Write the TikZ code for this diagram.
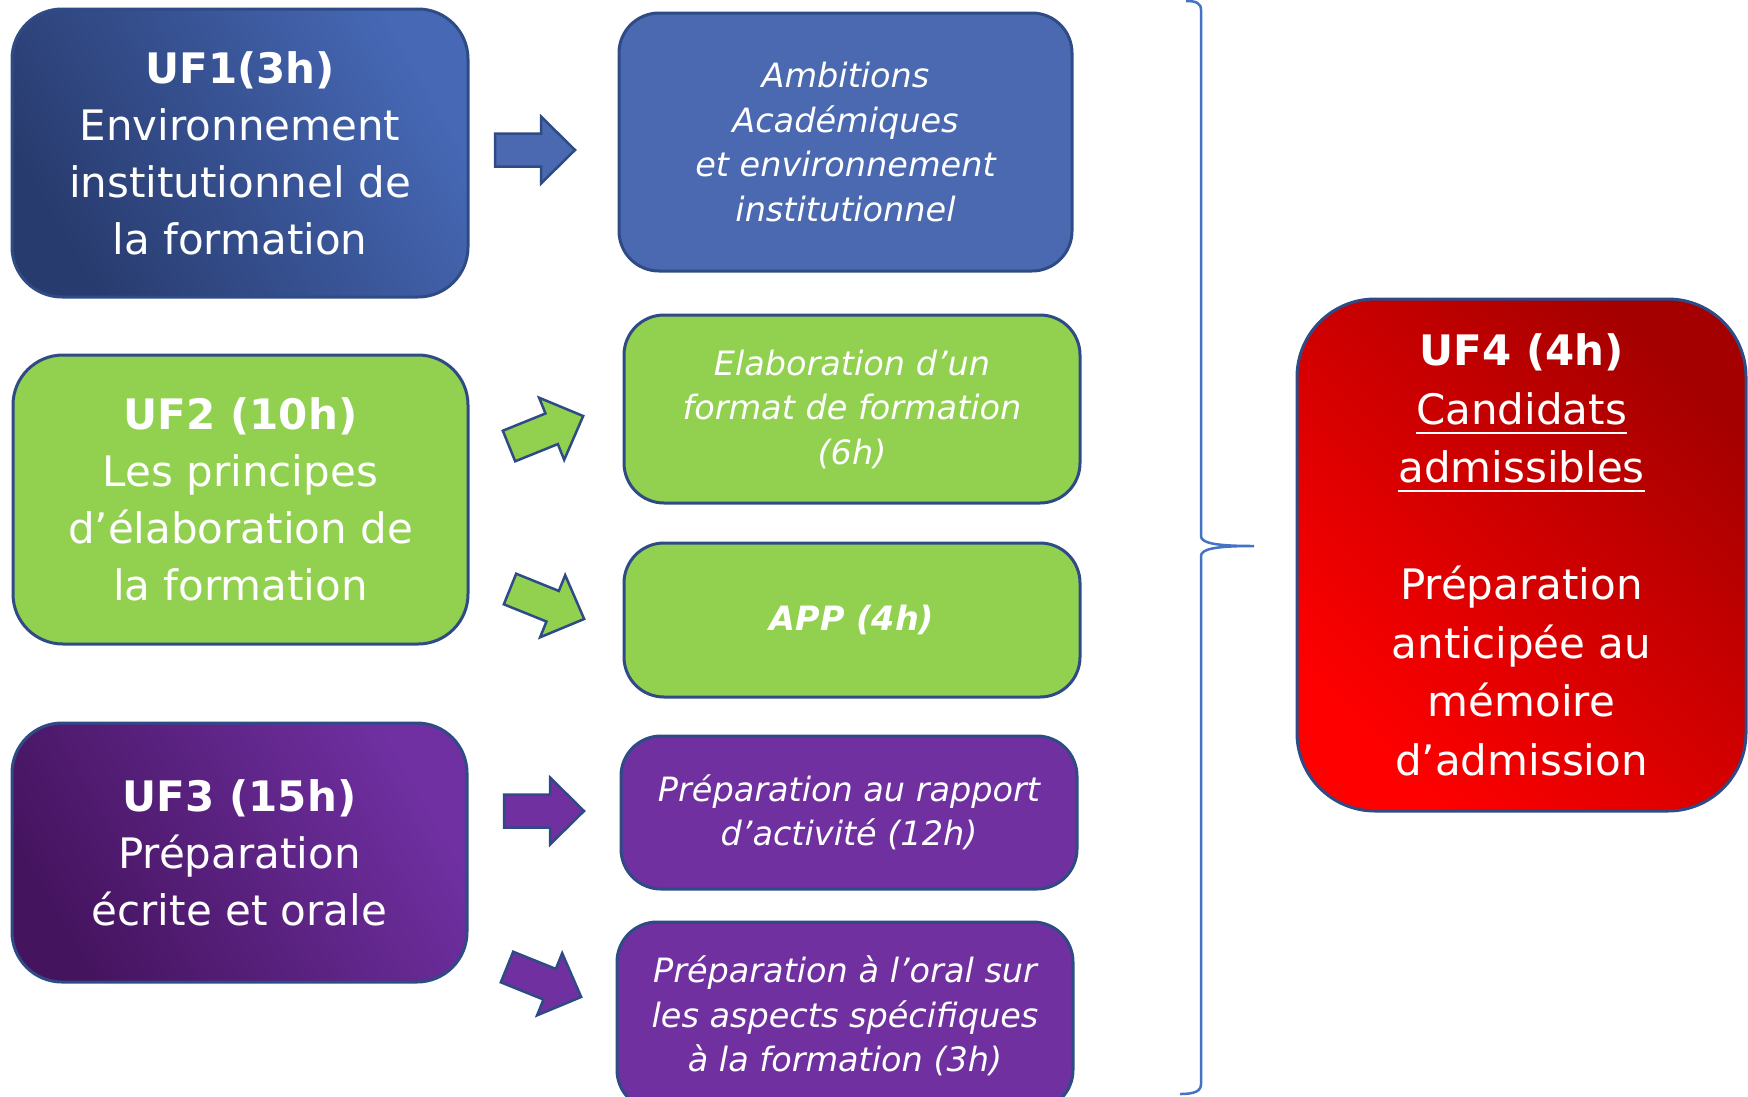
\documentclass[tikz,border=0pt]{standalone}
\usepackage{fontspec}
\setmainfont{DejaVu Sans}
\newsavebox\ulbox
\newcommand\myul[1]{\sbox\ulbox{#1}\rlap{\rule[-9.5pt]{\wd\ulbox}{2.2pt}}\usebox\ulbox}
\definecolor{bord}{HTML}{2F4B85}
\definecolor{blueA}{HTML}{283B6E}
\definecolor{blueB}{HTML}{4668B5}
\definecolor{blueflat}{HTML}{4A69B0}
\definecolor{greenflat}{HTML}{92D050}
\definecolor{purpA}{HTML}{45145F}
\definecolor{purpB}{HTML}{7030A2}
\definecolor{purpflat}{HTML}{7030A0}
\definecolor{redA}{HTML}{FF0000}
\definecolor{redB}{HTML}{A50000}
\definecolor{bracec}{HTML}{4472C4}
\newcommand\bigfont{\fontsize{42}{57}\selectfont}
\newcommand\redfont{\fontsize{42}{58.5}\selectfont}
\newcommand\itfont{\fontsize{33.5}{44.5}\selectfont\itshape}
\tikzset{
  ufbox/.style={draw=bord, line width=3pt, text=white, align=center, font=\bigfont, inner sep=0pt},
  subbox/.style={draw=bord, line width=3pt, text=white, align=center, font=\itfont, inner sep=0pt,
    rounded corners=40pt, minimum width=456pt},
  blockarrow/.pic={\path[pic actions] (0,-16.5) -- (46,-16.5) -- (46,-33.5) -- (80,0) -- (46,33.5) -- (46,16.5) -- (0,16.5) -- cycle;},
  barrow/.style={draw=bord, line width=2.5pt, line join=miter},
}
\begin{document}
\begin{tikzpicture}[x=1pt,y=-1pt]
\useasboundingbox (0,0) rectangle (1748,1096);
\clip (0,0) rectangle (1748,1096);

% left column
\node[ufbox, rounded corners=50pt, minimum width=456pt, minimum height=288pt,
      top color=blueB, bottom color=blueA, shading angle=-60] (uf1) at (240,153)
  {\textbf{UF1(3h)}\\Environnement\\institutionnel de\\la formation};
\node[ufbox, rounded corners=50pt, minimum width=455pt, minimum height=289pt,
      fill=greenflat] (uf2) at (240.5,499.5)
  {\textbf{UF2 (10h)}\\Les principes\\d’élaboration de\\la formation};
\node[ufbox, rounded corners=50pt, minimum width=455pt, minimum height=259pt,
      top color=purpB, bottom color=purpA, shading angle=-60] (uf3) at (239.5,852.5)
  {\textbf{UF3 (15h)}\\Préparation\\écrite et orale};

% middle column
\node[subbox, minimum width=453pt, minimum height=258pt, fill=blueflat] (amb) at (845.5,142)
  {Ambitions\\Académiques\\et environnement\\institutionnel};
\node[subbox, minimum height=188pt, fill=greenflat] (elab) at (852,409)
  {Elaboration d’un\\format de formation\\(6h)};
\node[subbox, minimum height=154pt, fill=greenflat] (app) at (852,620)
  {\textbf{APP (4h)}};
\node[subbox, minimum height=153pt, fill=purpflat] (rapp) at (849,812.5)
  {Préparation au rapport\\d’activité (12h)};
\node[subbox, minimum height=188pt, fill=purpflat] (oral) at (845,1016)
  {Préparation à l’oral sur\\les aspects spécifiques\\à la formation (3h)};

% right box
\node[ufbox, font=\redfont, rounded corners=78pt, minimum width=449pt, minimum height=512pt,
      top color=redB, bottom color=redA, shading angle=-45] (uf4) at (1521.5,555)
  {\textbf{UF4 (4h)}\\\myul{Candidats}\\\myul{admissibles}\\[58.5pt]Préparation\\anticipée au\\mémoire\\d’admission};

% block arrows
\pic[barrow, fill=blueflat] at (495,150) {blockarrow};
\pic[barrow, fill=greenflat, rotate=22] at (509,446) {blockarrow};
\pic[barrow, fill=greenflat, rotate=-22] at (510,589) {blockarrow};
\pic[barrow, fill=purpflat] at (504,811) {blockarrow};
\pic[barrow, fill=purpflat, rotate=-22] at (507,967) {blockarrow};

% brace
\coordinate (bracetip) at (1254,546);
\draw[bracec, line width=2.5pt]
  (1186,1) .. controls (1196,1) and (1201,3) .. (1201,10)
  -- (1201,536) .. controls (1201,543) and (1215,546) .. (bracetip)
  .. controls (1215,546) and (1201,549) .. (1201,556)
  -- (1201,1084) .. controls (1201,1091) and (1195,1094) .. (1180,1094);
\end{tikzpicture}
\end{document}
